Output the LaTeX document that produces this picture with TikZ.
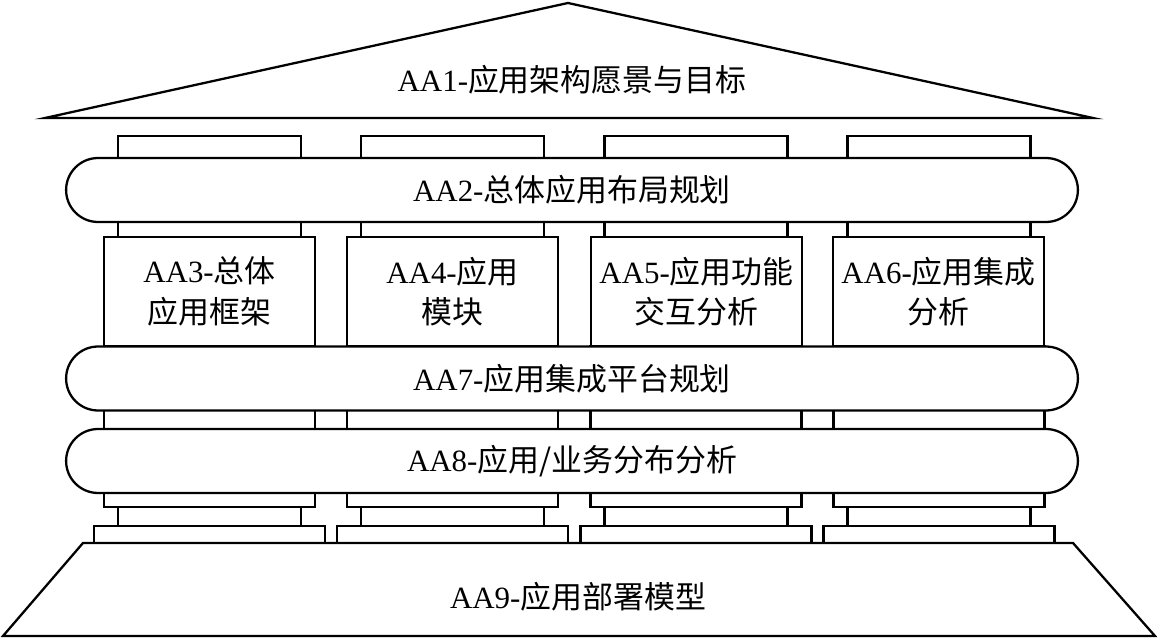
\documentclass[tikz,border=0pt]{standalone}
\usepackage{fontspec}
\setmainfont{Liberation Serif}
\newfontfamily\cjk{Noto Sans CJK SC}
\newcommand{\lbl}{\fontsize{17.6}{23}\selectfont}

\begin{document}
\begin{tikzpicture}[x=0.02cm, y=-0.02cm, line width=1.3pt,
  band/.style={draw, fill=white, rounded corners=0.64cm, minimum width=20.24cm, minimum height=1.28cm, font=\lbl},
  block/.style={draw, fill=white, minimum width=4.22cm, minimum height=2.18cm, align=center, font=\lbl},
  plain/.style={font=\lbl}]
\useasboundingbox (0,0) rectangle (1157,638);

% roof
\draw (45,118) -- (568,3) -- (1093,118) -- cycle;
\node[plain] (aa1) at (572,80) {AA1-{\cjk 应用架构愿景与目标}};

% column pieces
\foreach \c in {209.5,452.5,696,939} {
  \draw (\c-91.5,136) rectangle (\c+91.5,237);
  \draw (\c-105.5,346) rectangle (\c+105.5,507);
  \draw (\c-91.5,507) rectangle (\c+91.5,526);
  \draw (\c-115.5,526) rectangle (\c+115.5,543);
}

% bands and blocks
\node[band] (aa2) at (572,190) {AA2-{\cjk 总体应用布局规划}};
\node[block] (aa3) at (209.5,291.5) {AA3-{\cjk 总体}\\{\cjk 应用框架}};
\node[block] (aa4) at (452.5,291.5) {AA4-{\cjk 应用}\\{\cjk 模块}};
\node[block] (aa5) at (696.5,291.5) {AA5-{\cjk 应用功能}\\{\cjk 交互分析}};
\node[block] (aa6) at (938.5,291.5) {AA6-{\cjk 应用集成}\\{\cjk 分析}};
\node[band] (aa7) at (572,378.5) {AA7-{\cjk 应用集成平台规划}};
\node[band] (aa8) at (572,461) {AA8-{\cjk 应用/业务分布分析}};

% base
\draw (83,543) -- (1073,543) -- (1155,636) -- (3,636) -- cycle;
\node[plain] (aa9) at (578,597) {AA9-{\cjk 应用部署模型}};
\end{tikzpicture}
\end{document}
